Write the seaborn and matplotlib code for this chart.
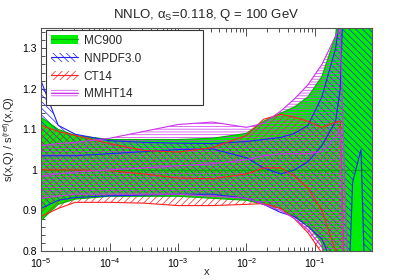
import matplotlib
matplotlib.use('Agg')

import matplotlib.pyplot as plt
import seaborn as sns
from matplotlib.lines import Line2D
from matplotlib.patches import Patch
from matplotlib.ticker import FuncFormatter, LogLocator, MultipleLocator

x_nodes = [1e-5, 1.78e-5, 3.16e-5, 1e-4, 3.16e-4, 1e-3, 3.16e-3, 1e-2, 0.0178, 0.0316,
           0.05, 0.079, 0.126, 0.2, 0.234, 0.28, 0.355, 0.47, 0.56, 0.68]

mc900_up = [1.13, 1.10, 1.085, 1.075, 1.075, 1.075, 1.078, 1.09, 1.12, 1.14,
            1.155, 1.18, 1.23, 1.33, 1.45, 1.6, 1.6, 1.6, 1.6, 1.6]
mc900_lo = [0.875, 0.915, 0.928, 0.935, 0.935, 0.935, 0.93, 0.925, 0.915, 0.905,
            0.885, 0.865, 0.82, 0.6, 0.55, 0.5, 0.5, 0.5, 0.5, 0.5]
mc900_c = [1.0, 1.0, 1.0, 1.0, 1.0, 1.0, 1.0, 1.0, 1.0, 1.0,
           1.0, 1.0, 1.0, 1.0, 1.0, 1.0, 1.0, 1.0, 1.0, 1.0]

nnpdf_up = [1.22, 1.11, 1.088, 1.072, 1.068, 1.066, 1.065, 1.07, 1.075, 1.08,
            1.09, 1.11, 1.18, 1.30, 1.38, 1.6, 1.6, 1.6, 1.6, 1.6]
nnpdf_lo = [0.905, 0.925, 0.932, 0.936, 0.938, 0.94, 0.94, 0.93, 0.915, 0.895,
            0.885, 0.86, 0.83, 0.75, 0.65, 0.5, 0.97, 1.05, 0.6, 0.5]
nnpdf_c = [1.035, 1.035, 1.035, 1.04, 1.045, 1.05, 1.052, 1.03, 1.005, 0.99,
           1.0, 1.02, 1.06, 1.12, 1.2, 1.6, 1.6, 1.6, 1.6, 1.6]

ct14_up = [1.11, 1.095, 1.085, 1.065, 1.048, 1.044, 1.055, 1.085, 1.125, 1.137,
           1.13, 1.12, 1.105, 1.118, 1.12, 0.6, 0.5, 0.5, 0.5, 0.5]
ct14_lo = [0.885, 0.905, 0.92, 0.92, 0.918, 0.912, 0.912, 0.915, 0.917, 0.905,
           0.88, 0.845, 0.795, 0.72, 0.6, 0.5, 0.5, 0.5, 0.5, 0.5]
ct14_c = [1.0, 1.0, 1.0, 0.998, 0.99, 0.98, 0.978, 0.99, 1.005, 1.005,
          0.985, 0.955, 0.9, 0.8, 0.7, 0.5, 0.5, 0.5, 0.5, 0.5]

mmht_up = [1.06, 1.065, 1.068, 1.078, 1.095, 1.112, 1.118, 1.105, 1.115, 1.145,
           1.175, 1.21, 1.26, 1.33, 1.35, 0.9, 0.5, 0.5, 0.5, 0.5]
mmht_lo = [0.93, 0.935, 0.94, 0.94, 0.94, 0.94, 0.935, 0.93, 0.915, 0.90,
           0.88, 0.852, 0.81, 0.7, 0.6, 0.5, 0.5, 0.5, 0.5, 0.5]
mmht_c = [0.985, 0.99, 0.995, 1.0, 1.005, 1.01, 1.015, 1.025, 1.035, 1.04,
          1.04, 1.04, 1.045, 1.08, 1.1, 0.5, 0.5, 0.5, 0.5, 0.5]

labels = ['MC900', 'NNPDF3.0', 'CT14', 'MMHT14']

sns.set_style('ticks')
plt.rcParams['font.family'] = ['Liberation Sans', 'DejaVu Sans']
plt.rcParams['mathtext.fontset'] = 'custom'
plt.rcParams['mathtext.rm'] = 'Liberation Sans'
plt.rcParams['mathtext.it'] = 'Liberation Sans:italic'
plt.rcParams['hatch.linewidth'] = 0.5

fig = plt.figure(figsize=(4.13, 2.80), dpi=100)
ax = fig.add_axes([0.0993, 0.1036, 0.8014, 0.7964])

green = '#00ee00'
blue = '#2020ff'
red = '#ff2020'
magenta = '#cc33ee'

ax.fill_between(x_nodes, mc900_lo, mc900_up, facecolor=green, edgecolor='none', lw=0)
ax.fill_between(x_nodes, nnpdf_lo, nnpdf_up, facecolor='none', edgecolor=blue,
                hatch='\\\\\\\\\\', lw=0)
ax.fill_between(x_nodes, ct14_lo, ct14_up, facecolor='none', edgecolor=red,
                hatch='/////', lw=0)
ax.fill_between(x_nodes, mmht_lo, mmht_up, facecolor='none', edgecolor=magenta,
                hatch='------', lw=0)

sets = [
    (mc900_lo, mc900_c, mc900_up, '#00b000'),
    (nnpdf_lo, nnpdf_c, nnpdf_up, blue),
    (ct14_lo, ct14_c, ct14_up, red),
    (mmht_lo, mmht_c, mmht_up, magenta),
]
for lo, c, up, col in sets:
    for y in (lo, c, up):
        sns.lineplot(x=x_nodes, y=y, ax=ax, color=col, lw=0.8, legend=False)

ax.set_xscale('log')
ax.set_xlim(1e-5, 0.68)
ax.set_ylim(0.8, 1.35)

ax.yaxis.set_major_locator(MultipleLocator(0.1))
ax.yaxis.set_minor_locator(MultipleLocator(0.02))
ax.yaxis.set_major_formatter(FuncFormatter(lambda v, p: '%g' % round(v, 2)))
ax.xaxis.set_major_locator(LogLocator(base=10, numticks=10))
ax.xaxis.set_minor_locator(LogLocator(base=10, subs=range(2, 10), numticks=20))

ax.tick_params(which='both', direction='in', top=True, right=True,
               labelsize=7.5, colors='#333333', labelcolor='black', width=0.6)
ax.tick_params(which='major', length=5.5, pad=3)
ax.tick_params(axis='x', which='major', pad=4)
ax.tick_params(which='minor', length=2.8)
for s in ax.spines.values():
    s.set_color('#555555')
    s.set_linewidth(0.8)

ax.set_title('NNLO, α$_\\mathregular{S}$=0.118, Q = 100 GeV', fontsize=9.5, pad=7)
ax.set_xlabel('x', fontsize=8, labelpad=-2.5)
ax.set_ylabel('s(x,Q) / s$^\\mathregular{(ref)}$(x,Q)', fontsize=8, labelpad=4)

handles = [
    (Patch(facecolor=green, edgecolor='none'), Line2D([], [], color='#00b000', lw=0.8)),
    (Patch(facecolor='none', edgecolor=blue, hatch='\\\\\\\\\\', lw=0),
     Line2D([], [], color=blue, lw=0.8)),
    (Patch(facecolor='none', edgecolor=red, hatch='/////', lw=0),
     Line2D([], [], color=red, lw=0.8)),
    (Patch(facecolor='none', edgecolor=magenta, hatch='------', lw=0),
     Line2D([], [], color=magenta, lw=0.8)),
]
leg = ax.legend(handles, labels, loc='upper left', bbox_to_anchor=(0.015, 0.664, 0.474, 0.327),
                mode='expand', borderaxespad=0, fontsize=8.5, frameon=True, fancybox=False,
                framealpha=1, edgecolor='#333333', handlelength=2.3, handleheight=0.85,
                handletextpad=0.5, labelspacing=0.5, borderpad=0.4)
leg.get_frame().set_linewidth(0.8)

fig.savefig('out.png', dpi=100)
